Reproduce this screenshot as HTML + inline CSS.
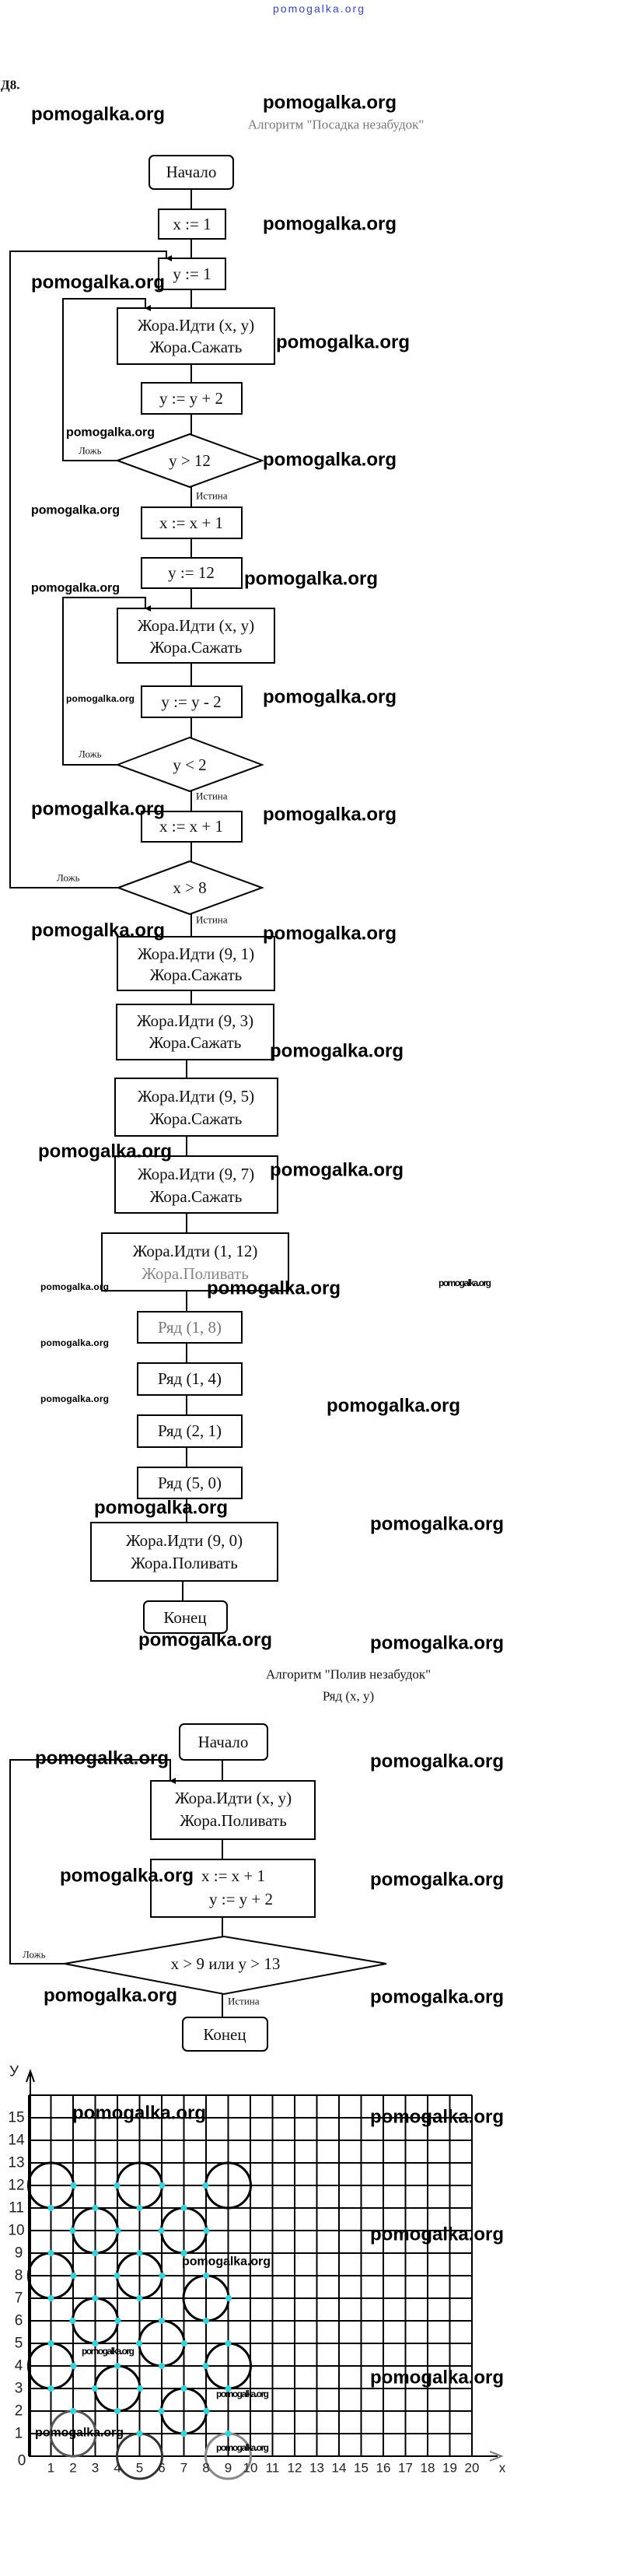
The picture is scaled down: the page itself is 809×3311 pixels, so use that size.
<!DOCTYPE html>
<html><head><meta charset="utf-8"><style>
html,body{margin:0;padding:0;background:#fff}
svg{display:block}
.s{font-family:"Liberation Serif","Noto Serif CJK SC",serif;fill:#111}
.w{font-family:"Liberation Sans",sans-serif;font-weight:bold;fill:#000}
.g{font-family:"Liberation Sans",sans-serif;fill:#222}
</style></head><body>
<svg width="809" height="3311" viewBox="0 0 809 3311" xmlns="http://www.w3.org/2000/svg">
<defs><marker id="a" markerWidth="8" markerHeight="8" refX="4" refY="7" orient="auto" markerUnits="userSpaceOnUse"><path d="M0,0 L8,0 L4,8 z" fill="#000"/></marker></defs>
<g stroke="#000" stroke-width="2" fill="none">
<!-- chart 1 -->
<rect x="192" y="200" width="108" height="43" rx="6"/>
<line x1="246" y1="243" x2="246" y2="269"/>
<rect x="204" y="269" width="86" height="38"/>
<line x1="246" y1="307" x2="246" y2="332"/>
<rect x="204" y="332" width="86" height="40"/>
<line x1="246" y1="372" x2="246" y2="396"/>
<rect x="151" y="396" width="202" height="72"/>
<line x1="246" y1="468" x2="246" y2="492"/>
<rect x="182" y="492" width="129" height="40"/>
<line x1="246" y1="532" x2="246" y2="558"/>
<polygon points="151,592 244,558 337,592 244,626"/>
<polyline points="151,592 81,592 81,384 187,384 187,396" marker-end="url(#a)"/>
<line x1="246" y1="626" x2="246" y2="652"/>
<rect x="182" y="652" width="129" height="40"/>
<line x1="246" y1="692" x2="246" y2="717"/>
<rect x="182" y="717" width="129" height="39"/>
<line x1="246" y1="756" x2="246" y2="782"/>
<rect x="151" y="782" width="202" height="70"/>
<line x1="246" y1="852" x2="246" y2="882"/>
<rect x="182" y="882" width="129" height="40"/>
<line x1="246" y1="922" x2="246" y2="948"/>
<polygon points="151,983 244,948 337,983 244,1017"/>
<polyline points="151,983 81,983 81,768 187,768 187,782" marker-end="url(#a)"/>
<line x1="246" y1="1017" x2="246" y2="1043"/>
<rect x="182" y="1043" width="129" height="39"/>
<line x1="246" y1="1082" x2="246" y2="1107"/>
<polygon points="152,1141 244,1107 337,1141 244,1175"/>
<polyline points="152,1141 13,1141 13,323 214,323 214,332" marker-end="url(#a)"/>
<line x1="246" y1="1175" x2="246" y2="1204"/>
<rect x="151" y="1204" width="202" height="69"/>
<line x1="246" y1="1273" x2="246" y2="1291"/>
<rect x="150" y="1291" width="202" height="71"/>
<line x1="240" y1="1362" x2="240" y2="1386"/>
<rect x="148" y="1386" width="209" height="74"/>
<line x1="240" y1="1460" x2="240" y2="1486"/>
<rect x="148" y="1486" width="209" height="73"/>
<line x1="240" y1="1559" x2="240" y2="1585"/>
<rect x="131" y="1585" width="240" height="74"/>
<line x1="240" y1="1659" x2="240" y2="1686"/>
<rect x="177" y="1686" width="134" height="40"/>
<line x1="240" y1="1726" x2="240" y2="1752"/>
<rect x="177" y="1752" width="134" height="41"/>
<line x1="240" y1="1793" x2="240" y2="1819"/>
<rect x="177" y="1819" width="134" height="41"/>
<line x1="240" y1="1860" x2="240" y2="1886"/>
<rect x="177" y="1886" width="134" height="40"/>
<line x1="240" y1="1926" x2="240" y2="1957"/>
<rect x="117" y="1957" width="240" height="75"/>
<line x1="235" y1="2032" x2="235" y2="2058"/>
<rect x="185" y="2058" width="107" height="41" rx="6"/>
<!-- chart 2 -->
<rect x="231" y="2216" width="113" height="46" rx="6"/>
<line x1="286" y1="2262" x2="286" y2="2289"/>
<rect x="194" y="2289" width="211" height="75"/>
<line x1="286" y1="2364" x2="286" y2="2390"/>
<rect x="194" y="2390" width="211" height="74"/>
<line x1="286" y1="2464" x2="286" y2="2489"/>
<polygon points="83,2524 288,2489 497,2524 288,2563"/>
<polyline points="83,2524 13,2524 13,2262 219,2262 219,2289" marker-end="url(#a)"/>
<line x1="286" y1="2563" x2="286" y2="2593"/>
<rect x="235" y="2593" width="109" height="43" rx="6"/>
</g>
<!-- chart texts -->
<g class="s" text-anchor="middle" dominant-baseline="central" font-size="21">
<text x="246" y="221">Начало</text>
<text x="247" y="288">x := 1</text>
<text x="247" y="352">y := 1</text>
<text x="252" y="418">Жора.Идти (x, y)</text>
<text x="252" y="446">Жора.Сажать</text>
<text x="246" y="512">y := y + 2</text>
<text x="244" y="592">y &gt; 12</text>
<text x="246" y="672">x := x + 1</text>
<text x="246" y="736">y := 12</text>
<text x="252" y="804">Жора.Идти (x, y)</text>
<text x="252" y="832">Жора.Сажать</text>
<text x="246" y="902">y := y - 2</text>
<text x="244" y="983">y &lt; 2</text>
<text x="246" y="1062">x := x + 1</text>
<text x="244" y="1141">x &gt; 8</text>
<text x="252" y="1226">Жора.Идти (9, 1)</text>
<text x="252" y="1253">Жора.Сажать</text>
<text x="251" y="1312">Жора.Идти (9, 3)</text>
<text x="251" y="1340">Жора.Сажать</text>
<text x="252" y="1409">Жора.Идти (9, 5)</text>
<text x="252" y="1438">Жора.Сажать</text>
<text x="252" y="1509">Жора.Идти (9, 7)</text>
<text x="252" y="1538">Жора.Сажать</text>
<text x="251" y="1608">Жора.Идти (1, 12)</text>
<text x="251" y="1637" fill="#888">Жора.Поливать</text>
<text x="244" y="1706" fill="#777">Ряд (1, 8)</text>
<text x="244" y="1772">Ряд (1, 4)</text>
<text x="244" y="1839">Ряд (2, 1)</text>
<text x="244" y="1906">Ряд (5, 0)</text>
<text x="237" y="1980">Жора.Идти (9, 0)</text>
<text x="237" y="2009">Жора.Поливать</text>
<text x="238" y="2079">Конец</text>
<text x="287" y="2239">Начало</text>
<text x="300" y="2311">Жора.Идти (x, y)</text>
<text x="300" y="2340">Жора.Поливать</text>
<text x="300" y="2411">x := x + 1</text>
<text x="310" y="2441">y := y + 2</text>
<text x="290" y="2524">x &gt; 9 или y &gt; 13</text>
<text x="289" y="2615">Конец</text>
</g>
<g class="s" font-size="13" dominant-baseline="central">
<text x="101" y="579">Ложь</text><text x="252" y="637">Истина</text>
<text x="101" y="969">Ложь</text><text x="252" y="1023">Истина</text>
<text x="73" y="1128">Ложь</text><text x="252" y="1182">Истина</text>
<text x="29" y="2512">Ложь</text><text x="293" y="2572">Истина</text>
</g>
<g class="s" font-size="17" fill="#555" dominant-baseline="central" text-anchor="middle">
<text x="432" y="160" fill="#777">Алгоритм "Посадка незабудок"</text>
<text x="448" y="2152">Алгоритм "Полив незабудок"</text>
<text x="448" y="2180">Ряд (x, y)</text>
</g>
<text x="1" y="109" class="s" font-size="17" font-weight="bold" dominant-baseline="central">Д8.</text>
<text x="351" y="11" font-family="Liberation Sans,sans-serif" font-size="14" fill="#3344dd" dominant-baseline="central" textLength="117">pomogalka.org</text>
<!-- graph -->
<g stroke="#000" stroke-width="2">
<path d="M37,2693V3157 M65.5,2693V3157 M94,2693V3157 M122.5,2693V3157 M151,2693V3157 M179.5,2693V3157 M208,2693V3157 M236.5,2693V3157 M265,2693V3157 M293.5,2693V3157 M322,2693V3157 M350.5,2693V3157 M379,2693V3157 M407.5,2693V3157 M436,2693V3157 M464.5,2693V3157 M493,2693V3157 M521.5,2693V3157 M550,2693V3157 M578.5,2693V3157 M607,2693V3157"/>
<path d="M37,2693H607 M37,2722H607 M37,2751H607 M37,2780H607 M37,2809H607 M37,2838H607 M37,2867H607 M37,2896H607 M37,2925H607 M37,2954H607 M37,2983H607 M37,3012H607 M37,3041H607 M37,3070H607 M37,3099H607 M37,3128H607 M37,3157H640"/>
<path d="M39,2665V3157" />
<path d="M34,2676 L39,2662 L44,2676" fill="none"/>
<path d="M630,3151 L645,3157 L630,3163" fill="none" stroke="#777"/>
</g>
<g fill="none" stroke="#000" stroke-width="3">
<circle cx="65.5" cy="2809" r="29"/><circle cx="179.5" cy="2809" r="29"/><circle cx="293.5" cy="2809" r="29"/>
<circle cx="122.5" cy="2867" r="29"/><circle cx="236.5" cy="2867" r="29"/>
<circle cx="65.5" cy="2925" r="29"/><circle cx="179.5" cy="2925" r="29"/>
<circle cx="265" cy="2954" r="29"/><circle cx="122.5" cy="2983" r="29"/>
<circle cx="208" cy="3012" r="29"/><circle cx="65.5" cy="3041" r="29"/><circle cx="293.5" cy="3041" r="29"/>
<circle cx="151" cy="3070" r="29"/><circle cx="236.5" cy="3099" r="29"/><circle cx="94" cy="3128" r="29" stroke="#555"/>
<circle cx="179.5" cy="3157" r="29" stroke="#333"/><circle cx="293.5" cy="3157" r="29" stroke="#888"/>
</g>
<g fill="#2fd6e0">
<circle cx="94.5" cy="2809" r="4"/><circle cx="65.5" cy="2838" r="4"/><circle cx="150.5" cy="2809" r="4"/><circle cx="208.5" cy="2809" r="4"/><circle cx="179.5" cy="2838" r="4"/><circle cx="264.5" cy="2809" r="4"/>
<circle cx="122.5" cy="2838" r="4"/><circle cx="93.5" cy="2867" r="4"/><circle cx="151.5" cy="2867" r="4"/><circle cx="122.5" cy="2896" r="4"/>
<circle cx="236.5" cy="2838" r="4"/><circle cx="207.5" cy="2867" r="4"/><circle cx="265.5" cy="2867" r="4"/><circle cx="236.5" cy="2896" r="4"/>
<circle cx="65.5" cy="2896" r="4"/><circle cx="94.5" cy="2925" r="4"/><circle cx="65.5" cy="2954" r="4"/>
<circle cx="179.5" cy="2896" r="4"/><circle cx="150.5" cy="2925" r="4"/><circle cx="208.5" cy="2925" r="4"/><circle cx="179.5" cy="2954" r="4"/>
<circle cx="265" cy="2925" r="4"/><circle cx="294" cy="2954" r="4"/><circle cx="265" cy="2983" r="4"/>
<circle cx="122.5" cy="2954" r="4"/><circle cx="93.5" cy="2983" r="4"/><circle cx="151.5" cy="2983" r="4"/><circle cx="122.5" cy="3012" r="4"/>
<circle cx="208" cy="2983" r="4"/><circle cx="179" cy="3012" r="4"/><circle cx="237" cy="3012" r="4"/><circle cx="208" cy="3041" r="4"/>
<circle cx="65.5" cy="3012" r="4"/><circle cx="94.5" cy="3041" r="4"/><circle cx="65.5" cy="3070" r="4"/>
<circle cx="293.5" cy="3012" r="4"/><circle cx="264.5" cy="3041" r="4"/><circle cx="293.5" cy="3070" r="4"/>
<circle cx="151" cy="3041" r="4"/><circle cx="122" cy="3070" r="4"/><circle cx="180" cy="3070" r="4"/><circle cx="151" cy="3099" r="4"/>
<circle cx="236.5" cy="3070" r="4"/><circle cx="207.5" cy="3099" r="4"/><circle cx="265.5" cy="3099" r="4"/><circle cx="236.5" cy="3128" r="4"/>
<circle cx="94" cy="3099" r="4"/><circle cx="179.5" cy="3128" r="4"/><circle cx="293.5" cy="3128" r="4"/>
</g>
<g class="g" font-size="19" text-anchor="middle" dominant-baseline="central">
<text x="18" y="2663">У</text>
<text x="21" y="2722">15</text><text x="21" y="2751">14</text><text x="21" y="2780">13</text><text x="21" y="2809">12</text><text x="21" y="2838">11</text><text x="21" y="2867">10</text><text x="24" y="2896">9</text><text x="24" y="2925">8</text><text x="24" y="2954">7</text><text x="24" y="2983">6</text><text x="24" y="3012">5</text><text x="24" y="3041">4</text><text x="24" y="3070">3</text><text x="24" y="3099">2</text><text x="24" y="3128">1</text><text x="28" y="3163">0</text>
</g>
<g class="g" font-size="17" text-anchor="middle" dominant-baseline="central" fill="#666">
<text x="65.5" y="3172">1</text><text x="94" y="3172">2</text><text x="122.5" y="3172">3</text><text x="151" y="3172">4</text><text x="179.5" y="3172">5</text><text x="208" y="3172">6</text><text x="236.5" y="3172">7</text><text x="265" y="3172">8</text><text x="293.5" y="3172">9</text><text x="322" y="3172">10</text><text x="350.5" y="3172">11</text><text x="379" y="3172">12</text><text x="407.5" y="3172">13</text><text x="436" y="3172">14</text><text x="464.5" y="3172">15</text><text x="493" y="3172">16</text><text x="521.5" y="3172">17</text><text x="550" y="3172">18</text><text x="578.5" y="3172">19</text><text x="607" y="3172">20</text><text x="646" y="3172">x</text>
</g>
<!-- watermarks -->
<g class="w" font-size="24" dominant-baseline="central">
<text x="338" y="132" textLength="172">pomogalka.org</text>
<text x="40" y="147" textLength="172">pomogalka.org</text>
<text x="338" y="288" textLength="172">pomogalka.org</text>
<text x="40" y="363" textLength="172">pomogalka.org</text>
<text x="355" y="440" textLength="172">pomogalka.org</text>
<text x="338" y="591" textLength="172">pomogalka.org</text>
<text x="314" y="744" textLength="172">pomogalka.org</text>
<text x="338" y="896" textLength="172">pomogalka.org</text>
<text x="40" y="1040" textLength="172">pomogalka.org</text>
<text x="338" y="1047" textLength="172">pomogalka.org</text>
<text x="40" y="1196" textLength="172">pomogalka.org</text>
<text x="338" y="1200" textLength="172">pomogalka.org</text>
<text x="347" y="1351" textLength="172">pomogalka.org</text>
<text x="49" y="1480" textLength="172">pomogalka.org</text>
<text x="347" y="1504" textLength="172">pomogalka.org</text>
<text x="266" y="1656" textLength="172">pomogalka.org</text>
<text x="420" y="1807" textLength="172">pomogalka.org</text>
<text x="121" y="1938" textLength="172">pomogalka.org</text>
<text x="476" y="1959" textLength="172">pomogalka.org</text>
<text x="178" y="2108" textLength="172">pomogalka.org</text>
<text x="476" y="2112" textLength="172">pomogalka.org</text>
<text x="45" y="2260" textLength="172">pomogalka.org</text>
<text x="476" y="2264" textLength="172">pomogalka.org</text>
<text x="77" y="2411" textLength="172">pomogalka.org</text>
<text x="476" y="2416" textLength="172">pomogalka.org</text>
<text x="56" y="2565" textLength="172">pomogalka.org</text>
<text x="476" y="2567" textLength="172">pomogalka.org</text>
<text x="93" y="2716" textLength="172">pomogalka.org</text>
<text x="476" y="2721" textLength="172">pomogalka.org</text>
<text x="476" y="2872" textLength="172">pomogalka.org</text>
<text x="476" y="3056" textLength="172">pomogalka.org</text>
</g>
<g class="w" font-size="16" dominant-baseline="central">
<text x="85" y="556" textLength="114">pomogalka.org</text>
<text x="40" y="656" textLength="114">pomogalka.org</text>
<text x="40" y="756" textLength="114">pomogalka.org</text>
<text x="234" y="2907" textLength="114">pomogalka.org</text>
<text x="45" y="3127" textLength="114">pomogalka.org</text>
</g>
<g class="w" font-size="12" dominant-baseline="central">
<text x="85" y="898" textLength="88">pomogalka.org</text>
<text x="52" y="1654" textLength="88">pomogalka.org</text>
<text x="564" y="1649" textLength="68">pomogalka.org</text>
<text x="52" y="1726" textLength="88">pomogalka.org</text>
<text x="52" y="1798" textLength="88">pomogalka.org</text>
<text x="105" y="3022" textLength="68">pomogalka.org</text>
<text x="278" y="3077" textLength="68">pomogalka.org</text>
<text x="278" y="3146" textLength="68">pomogalka.org</text>
</g>
</svg>
</body></html>
